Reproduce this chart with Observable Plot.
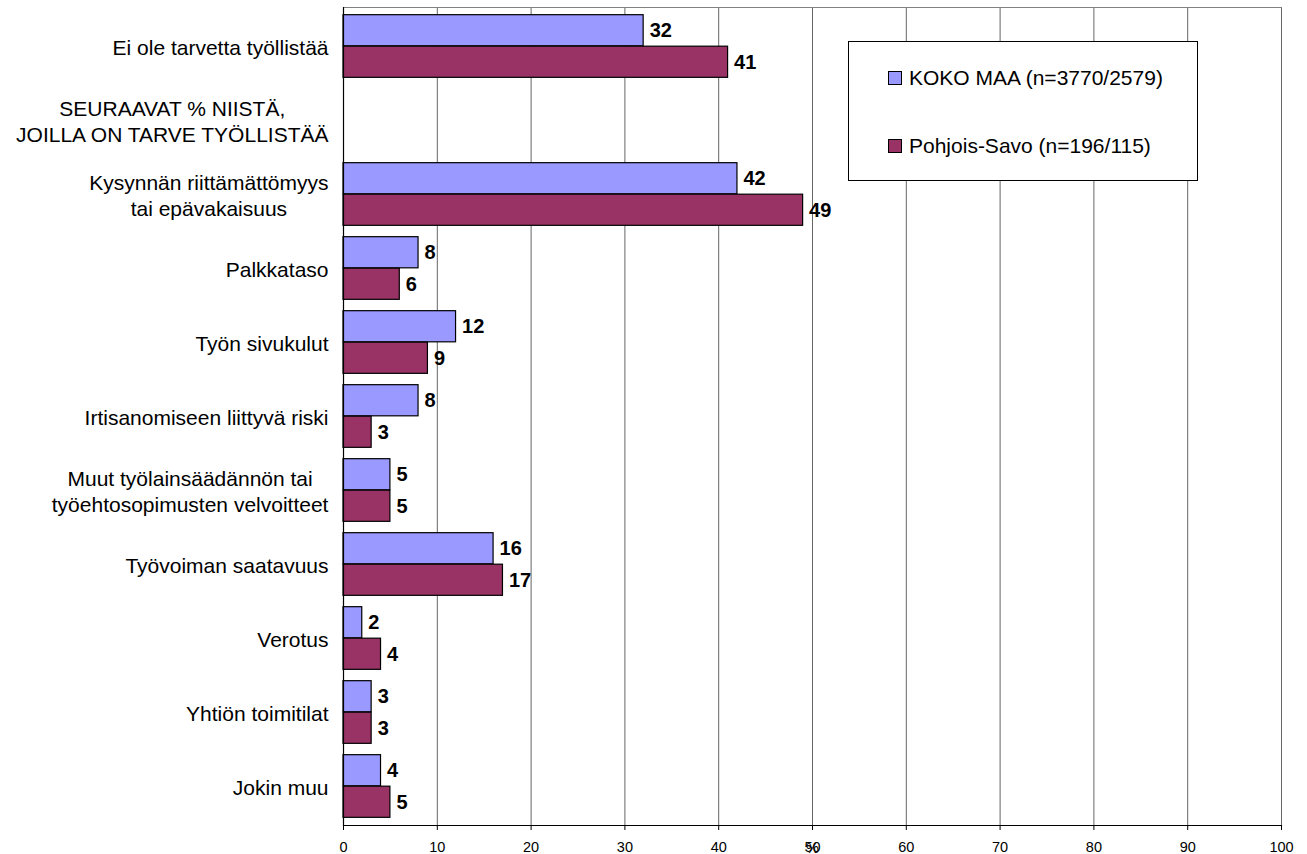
<!DOCTYPE html>
<html>
<head>
<meta charset="utf-8">
<script src="https://cdn.jsdelivr.net/npm/d3@7"></script>
<script src="https://cdn.jsdelivr.net/npm/@observablehq/plot@0.6"></script>
<style>
  body { margin: 0; background: #fff; font-family: "Liberation Sans", Arial, sans-serif; }
  #wrap { position: relative; width: 1307px; height: 854px; }
  #legend { position: absolute; left: 848px; top: 41px; width: 348px; height: 138px; border: 1px solid #000; background: #fff; }
  .item { position: absolute; left: 39px; height: 24px; display: flex; align-items: center; font-size: 21px; white-space: nowrap; color: #000; }
  .sw { width: 12px; height: 12px; border: 1px solid #000; margin-right: 7px; flex: none; }
</style>
</head>
<body>
<div id="wrap"></div>
<script>
const categories = [
  "Ei ole tarvetta työllistää",
  "SEURAAVAT % NIISTÄ,\nJOILLA ON TARVE TYÖLLISTÄÄ",
  "Kysynnän riittämättömyys\ntai epävakaisuus",
  "Palkkataso",
  "Työn sivukulut",
  "Irtisanomiseen liittyvä riski",
  "Muut työlainsäädännön tai\ntyöehtosopimusten velvoitteet",
  "Työvoiman saatavuus",
  "Verotus",
  "Yhtiön toimitilat",
  "Jokin muu"
];
const kokoMaa     = [32, null, 42, 8, 12, 8, 5, 16, 2, 3, 4];
const pohjoisSavo = [41, null, 49, 6,  9, 3, 5, 17, 4, 3, 5];
const seriesNames = ["KOKO MAA (n=3770/2579)", "Pohjois-Savo (n=196/115)"];
const seriesColors = ["#9999FF", "#993366"];
const xTicks = [0, 10, 20, 30, 40, 50, 60, 70, 80, 90, 100];
const xLabel = "%";

const W = 1307, H = 854;
const mT = 7, mB = 29, mL = 343, mR = 26;
const band = (H - mT - mB) / categories.length;
const barH = 31.5;

const rows = [];
categories.forEach((c, i) => {
  rows.push({category: c, series: seriesNames[0], value: kokoMaa[i]});
  rows.push({category: c, series: seriesNames[1], value: pohjoisSavo[i]});
});
const s0 = rows.filter(d => d.series === seriesNames[0] && d.value != null);
const s1 = rows.filter(d => d.series === seriesNames[1] && d.value != null);

const chart = Plot.plot({
  width: W, height: H,
  marginTop: mT, marginBottom: mB, marginLeft: mL, marginRight: mR,
  style: {fontFamily: "'Liberation Sans', Arial, sans-serif", color: "#000", background: "#fff"},
  x: {domain: [0, 100]},
  y: {domain: categories, padding: 0},
  color: {domain: seriesNames, range: seriesColors},
  marks: [
    Plot.gridX(xTicks, {stroke: "#666", strokeOpacity: 1}),
    Plot.frame({anchor: "top", stroke: "#808080"}),
    Plot.barX(s0, {x: "value", y: "category", fill: "series", stroke: "#000", strokeWidth: 1.2,
      insetTop: band / 2 - barH, insetBottom: band / 2}),
    Plot.barX(s1, {x: "value", y: "category", fill: "series", stroke: "#000", strokeWidth: 1.2,
      insetTop: band / 2, insetBottom: band / 2 - barH}),
    Plot.text(s0, {x: "value", y: "category", text: d => String(d.value), dx: 6, dy: -barH / 2,
      textAnchor: "start", fontWeight: "bold", fontSize: 20, fill: "#000"}),
    Plot.text(s1, {x: "value", y: "category", text: d => String(d.value), dx: 6, dy: barH / 2,
      textAnchor: "start", fontWeight: "bold", fontSize: 20, fill: "#000"}),
    Plot.ruleX([0], {stroke: "#000", strokeWidth: 1.2}),
    Plot.frame({anchor: "bottom", stroke: "#000", strokeWidth: 1.2}),
    Plot.axisX({ticks: xTicks, tickSize: 5, tickPadding: 11, fontSize: 14.5,
      label: xLabel, labelAnchor: "center", labelOffset: 27, labelArrow: "none"}),
    Plot.axisY({tickSize: 0, tickPadding: 15, fontSize: 21, lineHeight: 1.24, label: null})
  ]
});

const wrap = document.getElementById("wrap");
wrap.appendChild(chart);

// center multi-line category labels on their own width (right edge kept)
chart.querySelectorAll("text").forEach(t => {
  const spans = t.querySelectorAll("tspan");
  if (spans.length > 1) {
    const w = t.getBBox().width;
    t.setAttribute("text-anchor", "middle");
    spans.forEach(s => {
      const base = +(s.getAttribute("x") || 0);
      s.setAttribute("x", base - w / 2);
    });
  }
});

// legend
const legend = document.createElement("div");
legend.id = "legend";
seriesNames.forEach((name, i) => {
  const item = document.createElement("div");
  item.className = "item";
  item.style.top = (i === 0 ? 24 : 92) + "px";
  const sw = document.createElement("span");
  sw.className = "sw";
  sw.style.background = seriesColors[i];
  const tx = document.createElement("span");
  tx.textContent = name;
  item.appendChild(sw);
  item.appendChild(tx);
  legend.appendChild(item);
});
wrap.appendChild(legend);
</script>
</body>
</html>
